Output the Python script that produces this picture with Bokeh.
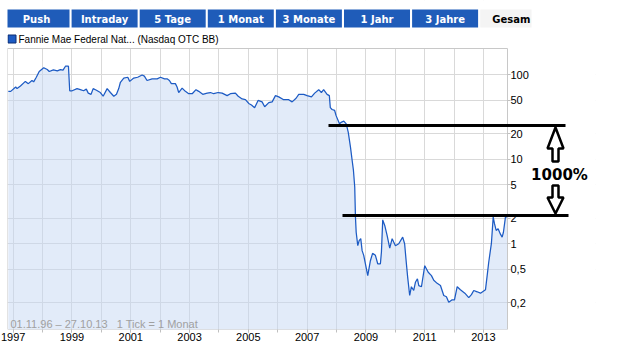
import numpy as np
import pandas as pd
from bokeh.plotting import figure
from bokeh.models import (Range1d, FixedTicker, Arrow, PolyAnnotation, Label,
                          ColumnDataSource, BasicTickFormatter)
from bokeh.core.properties import value
from bokeh.embed import file_html
from bokeh.resources import INLINE

# ---------------- data ----------------
dates = [
    "1996-11-01", "1996-12-01", "1997-02-01", "1997-02-18", "1997-04-01", "1997-06-01",
    "1997-07-08", "1997-08-22", "1997-09-12", "1997-10-15", "1997-11-20", "1998-01-15",
    "1998-02-28", "1998-03-25", "1998-05-15", "1998-07-03", "1998-08-10", "1998-09-12",
    "1998-10-12", "1998-11-18", "1998-12-04", "1999-01-03", "1999-03-05", "1999-04-15",
    "1999-05-25", "1999-06-28", "1999-07-22", "1999-08-26", "1999-09-21", "1999-11-01",
    "1999-12-19", "2000-01-23", "2000-03-13", "2000-04-22", "2000-06-04", "2000-07-07",
    "2000-08-04", "2000-08-25", "2000-10-06", "2000-11-25", "2000-12-19", "2001-02-07",
    "2001-03-28", "2001-05-22", "2001-06-19", "2001-07-22", "2001-09-23", "2001-11-25",
    "2002-01-05", "2002-02-24", "2002-03-28", "2002-04-26", "2002-05-20", "2002-07-09",
    "2002-07-30", "2002-08-19", "2002-10-01", "2002-11-10", "2002-12-22", "2003-02-03",
    "2003-03-22", "2003-04-25", "2003-06-14", "2003-08-08", "2003-09-18", "2003-10-28",
    "2003-12-22", "2004-02-10", "2004-04-12", "2004-05-23", "2004-07-24", "2004-08-28",
    "2004-10-16", "2004-11-26", "2005-01-06", "2005-02-09", "2005-03-20", "2005-05-02",
    "2005-06-21", "2005-07-23", "2005-09-12", "2005-10-24", "2005-12-04", "2006-01-14",
    "2006-03-16", "2006-05-18", "2006-06-29", "2006-08-17", "2006-09-19", "2006-11-20",
    "2007-01-01", "2007-02-24", "2007-04-05", "2007-05-25", "2007-06-27", "2007-07-25",
    "2007-09-06", "2007-10-04", "2007-10-16", "2007-11-07", "2007-12-09", "2007-12-27",
    "2008-02-07", "2008-03-04", "2008-04-01", "2008-05-01", "2008-05-26", "2008-06-23",
    "2008-07-14", "2008-07-30", "2008-08-15", "2008-08-24", "2008-09-02", "2008-09-22",
    "2008-10-09", "2008-10-29", "2008-11-15", "2008-12-05", "2008-12-26", "2009-01-24",
    "2009-02-26", "2009-03-25", "2009-04-29", "2009-05-28", "2009-06-30", "2009-07-13",
    "2009-07-29", "2009-08-23", "2009-09-22", "2009-10-24", "2009-11-23", "2009-12-12",
    "2010-01-03", "2010-02-13", "2010-04-03", "2010-04-27", "2010-05-19", "2010-06-04",
    "2010-06-29", "2010-07-20", "2010-08-18", "2010-09-08", "2010-10-03", "2010-10-20",
    "2010-11-22", "2011-01-02", "2011-02-14", "2011-03-26", "2011-04-24", "2011-06-05",
    "2011-07-16", "2011-08-26", "2011-09-28", "2011-10-27", "2011-12-08", "2012-01-06",
    "2012-02-09", "2012-03-20", "2012-05-14", "2012-07-02", "2012-08-04", "2012-09-02",
    "2012-10-15", "2012-11-25", "2013-01-26", "2013-02-16", "2013-03-07", "2013-04-10",
    "2013-05-02", "2013-05-18", "2013-06-08", "2013-07-02", "2013-07-31", "2013-08-21",
    "2013-09-06", "2013-10-01", "2013-10-27",
]
prices = [
    64, 64, 72, 69, 74, 84,
    79, 86, 83, 94, 110, 122,
    116, 110, 115, 112, 116, 114,
    127, 127, 65, 65, 69, 67,
    65, 68, 61, 59, 69, 66,
    62, 56, 69, 62, 56, 59,
    69, 82, 92, 94, 84, 92,
    94, 100, 97, 86, 90, 90,
    94, 90, 90, 86, 79, 79,
    72, 62, 70, 64, 60, 60,
    67, 64, 59, 61, 62, 60,
    62, 61, 57, 60, 61, 56,
    52, 51, 46, 44, 41, 50,
    48, 42, 47, 48, 57, 55,
    51, 51, 48, 53, 59, 59,
    57, 55, 61, 67, 62, 67,
    59, 57, 41, 39, 38, 33,
    26.4, 27.7, 28.4, 26.4, 21, 14,
    9.7, 7.4, 4.7, 2.07, 1.37, 0.95,
    1.09, 1.15, 0.83, 0.73, 0.58, 0.42,
    0.63, 0.77, 0.73, 0.58, 0.58, 0.80,
    1.92, 1.65, 1.25, 0.89, 1.15, 1.05,
    0.95, 1.0, 1.2, 1.0, 0.58, 0.40,
    0.244, 0.31, 0.28, 0.35, 0.385, 0.32,
    0.31, 0.55, 0.46, 0.42, 0.37, 0.34,
    0.32, 0.244, 0.236, 0.203, 0.217, 0.217,
    0.31, 0.285, 0.26, 0.23, 0.25, 0.28,
    0.27, 0.26, 0.285, 0.42, 0.60, 1.02,
    2.07, 1.73, 1.44, 1.51, 1.3, 1.2,
    1.37, 2.07, 2.1,
]

tabs = ["Push", "Intraday", "5 Tage", "1 Monat", "3 Monate", "1 Jahr", "3 Jahre", "Gesam"]
active_tab = "Gesam"
series_name = "Fannie Mae Federal Nat... (Nasdaq OTC BB)"
footer_text = "01.11.96 \u2013 27.10.13 \u00a0\u00a01 Tick = 1 Monat"
y_ticks = [0.2, 0.5, 1, 2, 5, 10, 20, 50, 100]
y_tick_labels = ["0,2", "0,5", "1", "2", "5", "10", "20", "50", "100"]
x_label_years = list(range(1997, 2014, 2))
x_grid_years = list(range(1997, 2014))
annotation_text = "1000%"
level_high = 25.2   # upper black line level
level_low = 2.16    # lower black line level

# ---------------- layout constants (page pixels) ----------------
W, H = 625, 351
DATA_L, DATA_R = 7, 507            # data region on the page
DATA_T, DATA_B = 48, 329
FRAME_R = 595                      # bokeh frame extends right of the data region
X0, X1 = 1996.806, 2013.818        # x values at DATA_L / DATA_R
Y0, Y1 = 0.09652, 206.0            # y values at DATA_B / DATA_T

BLUE = "#1d5bc4"
FILL = "#c5d7f4"
GRID = "#d9d9d9"
FONT = "Liberation Sans"

KX = (X1 - X0) / (DATA_R - DATA_L)
L0, L1 = np.log10(Y0), np.log10(Y1)
KY = (L1 - L0) / (DATA_B - DATA_T)


def px_to_x(px):
    return X0 + (px - DATA_L) * KX


def py_to_y(py):
    return 10 ** (L1 - (py - DATA_T) * KY)


d = pd.to_datetime(dates)
years = (d.year + (d.dayofyear - 1) / np.where(d.is_leap_year, 366, 365)).to_numpy()
src = ColumnDataSource(dict(x=years, y=prices, base=[Y0 / 2] * len(prices)))

p = figure(width=W, height=H,
           x_range=Range1d(X0, px_to_x(FRAME_R)), y_range=Range1d(Y0, py_to_y(0)),
           y_axis_type="log", y_axis_location="right", output_backend="svg",
           toolbar_location=None, min_border_left=DATA_L, min_border_right=W - FRAME_R,
           min_border_top=0, min_border_bottom=H - DATA_B)
p.outline_line_color = None
p.background_fill_color = "white"
p.border_fill_color = "white"

# grid
p.xgrid.ticker = FixedTicker(ticks=x_grid_years)
p.ygrid.ticker = FixedTicker(ticks=y_ticks)
p.grid.grid_line_color = GRID
p.grid.grid_line_width = 1

# axes
p.xaxis.ticker = FixedTicker(ticks=x_label_years, minor_ticks=x_grid_years)
p.xaxis.formatter = BasicTickFormatter(use_scientific=False)
p.yaxis.ticker = FixedTicker(ticks=y_ticks, minor_ticks=[])
p.yaxis.major_label_overrides = {k: v for k, v in zip(y_ticks, y_tick_labels)}
p.yaxis.fixed_location = X1
for ax in (p.xaxis, p.yaxis):
    ax.axis_line_color = None
    ax.major_tick_in = 0
    ax.major_tick_out = 3
    ax.minor_tick_in = 0
    ax.minor_tick_out = 3
    ax.major_tick_line_color = "#c0c0c0"
    ax.minor_tick_line_color = "#c0c0c0"
    ax.major_label_standoff = 0
    ax.major_label_text_font = FONT
    ax.major_label_text_font_size = "11px"
    ax.major_label_text_color = "#000000"

# white masks so the grid only shows inside the data region
p.quad(left=[px_to_x(DATA_R)], right=[px_to_x(W + 10)], bottom=[Y0 / 2], top=[py_to_y(-10)],
       fill_color="white", line_color=None)
p.quad(left=[px_to_x(-10)], right=[px_to_x(W + 10)], bottom=[Y1], top=[py_to_y(-10)],
       fill_color="white", line_color=None)

# price series
p.varea(x="x", y1="base", y2="y", fill_color=FILL, fill_alpha=0.5, source=src)
p.line(x="x", y="y", line_color=BLUE, line_width=1.25, source=src)

# data region border
p.quad(left=[X0], right=[X1], bottom=[Y0], top=[Y1], fill_color=None,
       line_color="#c8c8c8", line_width=1)

# ---------------- header: tabs + legend ----------------
n = len(tabs)
pitch, tab_w = 68.1, 66
lefts = [3 + i * pitch for i in range(n)]
rights = [l + tab_w for l in lefts]
rights[-1] = 531
tab_src = ColumnDataSource(dict(
    left=[px_to_x(l) for l in lefts],
    right=[px_to_x(r) for r in rights],
    tx=[px_to_x(l + tab_w / 2) if s != active_tab else px_to_x(l + 12) for l, s in zip(lefts, tabs)],
    align=["center" if s != active_tab else "left" for s in tabs],
    label=tabs,
    fill=["#f4f4f4" if s == active_tab else "#1f5cb9" for s in tabs],
    color=["#000000" if s == active_tab else "#ffffff" for s in tabs],
))
p.quad(left="left", right="right", top=py_to_y(9), bottom=py_to_y(27), fill_color="fill",
       line_color=None, source=tab_src)
p.text(x="tx", y=py_to_y(18.5), text="label", text_color="color", text_align="align",
       text_baseline="middle", text_font=value("DejaVu Sans"), text_font_style="bold",
       text_font_size="10px", source=tab_src)
p.quad(left=[px_to_x(7.5)], right=[px_to_x(15.5)], top=[py_to_y(34.5)], bottom=[py_to_y(42.5)],
       fill_color=BLUE, line_color="#0d2f72")
p.text(x=[px_to_x(18)], y=[py_to_y(38.5)], text=[series_name], text_color="#000000",
       text_baseline="middle", text_font=value(FONT), text_font_size="10px")

# footer text inside the chart
p.add_layout(Label(x=px_to_x(10), y=py_to_y(323), text=footer_text, text_color="#a0a0a0",
                   text_baseline="middle", text_font=FONT, text_font_size="11px"))

# ---------------- annotation: 1000% ----------------
p.add_layout(Arrow(end=None, x_start=px_to_x(328), x_end=px_to_x(565), y_start=level_high,
                   y_end=level_high, line_color="black", line_width=3))
p.add_layout(Arrow(end=None, x_start=px_to_x(342), x_end=px_to_x(568), y_start=level_low,
                   y_end=level_low, line_color="black", line_width=3))
up = [(555, 127), (563, 148), (558, 148), (558, 161), (552, 161), (552, 148), (547, 148)]
down = [(552, 185), (558, 185), (558, 197), (563, 197), (555, 213), (547, 197), (552, 197)]
for shape in (up, down):
    p.add_layout(PolyAnnotation(xs=[px_to_x(a) for a, b in shape], ys=[py_to_y(b) for a, b in shape],
                                fill_color="white", fill_alpha=1, line_color="black",
                                line_alpha=1, line_width=2.5))
p.add_layout(Label(x=px_to_x(559), y=py_to_y(174), text=annotation_text, text_align="center",
                   text_baseline="middle", text_font="DejaVu Sans", text_font_style="bold",
                   text_font_size="15px", text_color="black"))

open("out.html", "w").write(file_html(p, INLINE))
